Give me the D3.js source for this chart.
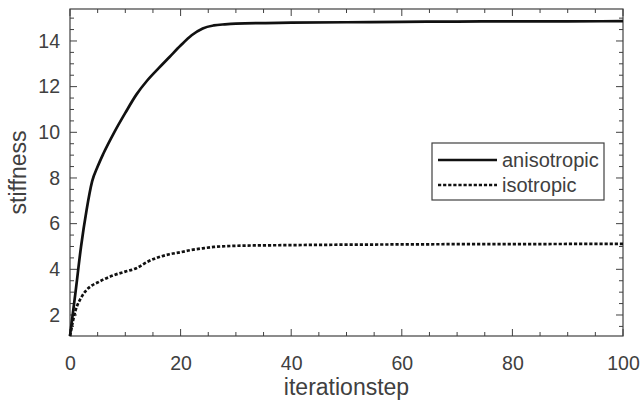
<!DOCTYPE html>
<html>
<head>
<meta charset="utf-8">
<script src="https://cdn.jsdelivr.net/npm/d3@7"></script>
<style>
  body { margin: 0; background: #fff; }
  text { font-family: "Liberation Sans", Arial, sans-serif; fill: #404040; }
</style>
</head>
<body>
<svg id="chart"></svg>
<script>
// data
var steps = [0, 1, 2, 3, 4, 5, 6, 8, 10, 12, 14, 16, 18, 20, 22, 24, 26, 28, 30, 40, 50, 60, 70, 80, 90, 100];
var anisotropic = [1.08, 3.0, 5.0, 6.6, 7.85, 8.5, 9.05, 10.0, 10.85, 11.65, 12.28, 12.8, 13.3, 13.8, 14.25, 14.55, 14.68, 14.73, 14.76, 14.8, 14.82, 14.84, 14.85, 14.86, 14.86, 14.87];
var isotropic = [1.08, 2.2, 2.75, 3.1, 3.3, 3.42, 3.55, 3.75, 3.9, 4.05, 4.33, 4.53, 4.66, 4.75, 4.85, 4.92, 4.98, 5.01, 5.03, 5.06, 5.08, 5.09, 5.1, 5.1, 5.11, 5.11];
var xTicks = [0, 20, 40, 60, 80, 100];
var yTicks = [2, 4, 6, 8, 10, 12, 14];
var seriesNames = ["anisotropic", "isotropic"];

var width = 642, height = 410;
var margin = {top: 9, right: 19, bottom: 74, left: 70};

var svg = d3.select("#chart")
    .attr("width", width)
    .attr("height", height);

var xScale = d3.scaleLinear()
    .domain([0, 100])
    .range([margin.left, width - margin.right]);

var yScale = d3.scaleLinear()
    .domain([1.08, 15.4])
    .range([height - margin.bottom, margin.top]);

var axisColor = "#404040";

// minor ticks (inward), matlab style
var xMinor = d3.range(0, 101, 5);
var yMinor = d3.range(1.5, 15.4, 0.5);

var tg = svg.append("g").attr("class", "ticks")
    .attr("stroke", axisColor).attr("stroke-width", 1);

xMinor.forEach(function(v) {
    var len = xTicks.indexOf(v) >= 0 ? 7 : 4;
    tg.append("line")
        .attr("x1", xScale(v)).attr("x2", xScale(v))
        .attr("y1", yScale.range()[0]).attr("y2", yScale.range()[0] - len);
    tg.append("line")
        .attr("x1", xScale(v)).attr("x2", xScale(v))
        .attr("y1", yScale.range()[1]).attr("y2", yScale.range()[1] + len);
});
yMinor.forEach(function(v) {
    var len = yTicks.indexOf(v) >= 0 ? 7 : 4;
    tg.append("line")
        .attr("y1", yScale(v)).attr("y2", yScale(v))
        .attr("x1", xScale.range()[0]).attr("x2", xScale.range()[0] + len);
    tg.append("line")
        .attr("y1", yScale(v)).attr("y2", yScale(v))
        .attr("x1", xScale.range()[1]).attr("x2", xScale.range()[1] - len);
});

// box
svg.append("rect")
    .attr("x", xScale.range()[0])
    .attr("y", yScale.range()[1])
    .attr("width", xScale.range()[1] - xScale.range()[0])
    .attr("height", yScale.range()[0] - yScale.range()[1])
    .attr("fill", "none")
    .attr("stroke", axisColor)
    .attr("stroke-width", 1.2);

// x axis labels
var xAxis = d3.axisBottom(xScale)
    .tickValues(xTicks)
    .tickSize(0)
    .tickPadding(20);

svg.append("g")
    .attr("class", "x axis")
    .attr("transform", "translate(0," + yScale.range()[0] + ")")
    .call(xAxis)
    .call(function(g) { g.select(".domain").remove(); })
    .selectAll("text")
    .attr("font-size", 19.5)
    .attr("fill", axisColor);

// y axis labels
var yAxis = d3.axisLeft(yScale)
    .tickValues(yTicks)
    .tickSize(0)
    .tickPadding(10);

svg.append("g")
    .attr("class", "y axis")
    .attr("transform", "translate(" + xScale.range()[0] + ",0)")
    .call(yAxis)
    .call(function(g) { g.select(".domain").remove(); })
    .selectAll("text")
    .attr("font-size", 19.5)
    .attr("fill", axisColor);

svg.selectAll(".axis text").style("font-family", "Liberation Sans, Arial, sans-serif");

// axis titles
svg.append("text")
    .attr("x", (xScale.range()[0] + xScale.range()[1]) / 2)
    .attr("y", 395)
    .attr("text-anchor", "middle")
    .attr("font-size", 23)
    .text("iterationstep");

svg.append("text")
    .attr("transform", "translate(26," + (yScale.range()[0] + yScale.range()[1]) / 2 + ") rotate(-90)")
    .attr("text-anchor", "middle")
    .attr("font-size", 23)
    .text("stiffness");

// lines
var line = d3.line()
    .x(function(d) { return xScale(d[0]); })
    .y(function(d) { return yScale(d[1]); })
    .curve(d3.curveMonotoneX);

var anisoData = steps.map(function(s, i) { return [s, anisotropic[i]]; });
var isoData = steps.map(function(s, i) { return [s, isotropic[i]]; });

svg.append("path")
    .datum(isoData)
    .attr("fill", "none")
    .attr("stroke", "#111")
    .attr("stroke-width", 2.7)
    .attr("stroke-dasharray", "3.2,1.9")
    .attr("d", line);

svg.append("path")
    .datum(anisoData)
    .attr("fill", "none")
    .attr("stroke", "#111")
    .attr("stroke-width", 2.7)
    .attr("d", line);

// legend
var legend = svg.append("g").attr("class", "legend");
legend.append("rect")
    .attr("x", 432).attr("y", 143)
    .attr("width", 172).attr("height", 57)
    .attr("fill", "#fff")
    .attr("stroke", axisColor)
    .attr("stroke-width", 1.2);

seriesNames.forEach(function(name, i) {
    var y = 160 + i * 25;
    legend.append("line")
        .attr("x1", 438).attr("x2", 497)
        .attr("y1", y).attr("y2", y)
        .attr("stroke", "#111")
        .attr("stroke-width", 2.7)
        .attr("stroke-dasharray", i === 0 ? null : "3.2,1.9");
    legend.append("text")
        .attr("x", 502).attr("y", y)
        .attr("dy", "0.35em")
        .attr("font-size", 20)
        .text(name);
});
</script>
</body>
</html>
